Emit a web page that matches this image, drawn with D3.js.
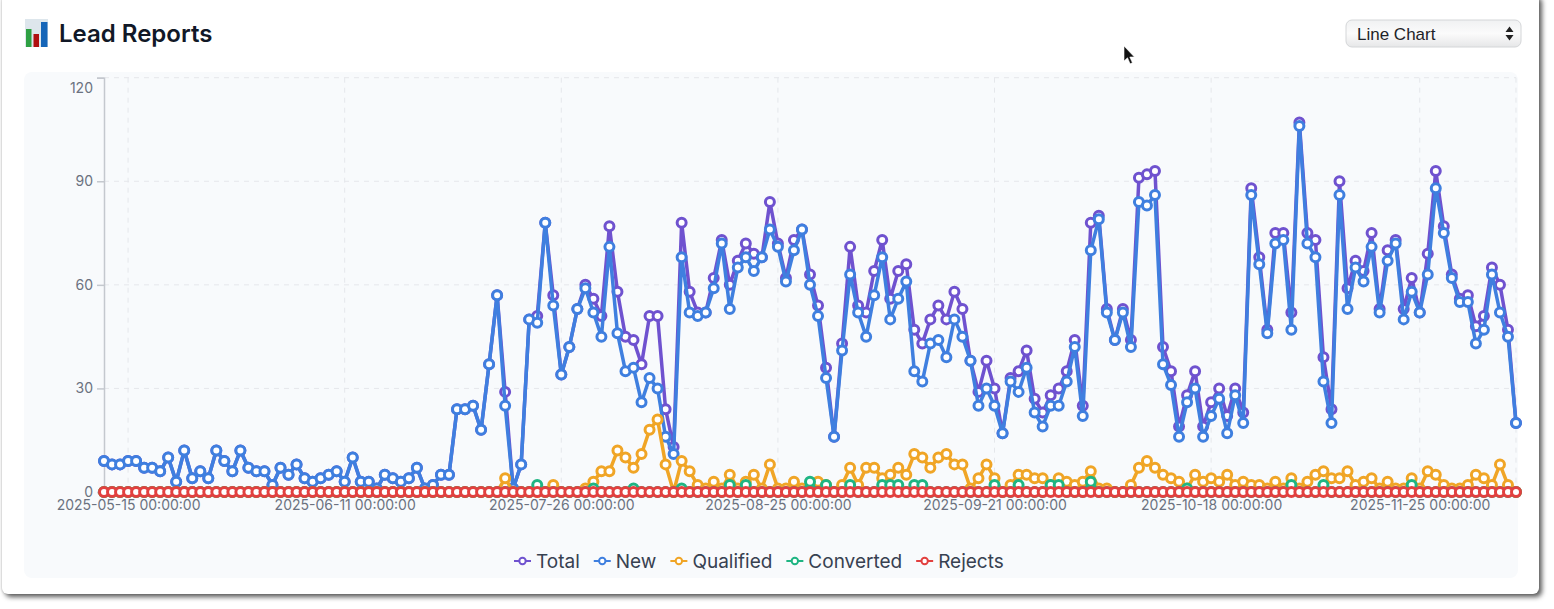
<!DOCTYPE html>
<html lang="en">
<head>
<meta charset="UTF-8">
<title>Lead Reports</title>
<script src="https://d3js.org/d3.v7.min.js"></script>
<style>
    body { margin: 0; background: #fff; font-family: Inter, sans-serif; overflow: hidden; }
    .card {
        position: absolute; left: 2px; top: -6px; width: 1537px; height: 600px;
        background: #fff; border-radius: 6px;
        box-shadow: 3px 3px 5px rgba(0,0,0,0.65), -1px 0 2px rgba(0,0,0,0.12);
    }
    .panel {
        position: absolute; left: 24px; top: 72px; width: 1494px; height: 506px;
        background: #f8fafc; border-radius: 8px;
    }
    svg { position: absolute; left: 0; top: 0; }
    .axis text { fill: #6b7280; font-family: Inter, sans-serif; font-size: 14px; }
    .grid line { stroke: #e5e7eb; stroke-dasharray: 5 5; }
</style>
</head>
<body>
<div class="card"></div>
<div class="panel"></div>
<svg id="chart" width="1554" height="609"></svg>

<script>
    const tickIndexes = [3, 30, 57, 84, 111, 138, 164];
    const tickLabels = ["2025-05-15 00:00:00", "2025-06-11 00:00:00", "2025-07-26 00:00:00", "2025-08-25 00:00:00",
        "2025-09-21 00:00:00", "2025-10-18 00:00:00", "2025-11-25 00:00:00"];
    const yTicks = [0, 30, 60, 90, 120];

    const total = [
        9,8,8,9,9,7,7,6,10,3,
        12,4,6,4,12,9,6,12,7,6,
        6,2,7,5,8,4,3,4,5,6,
        3,10,3,3,1,5,4,3,4,7,
        1,2,5,5,24,24,25,18,37,57,
        29,1,8,50,51,78,57,34,42,53,
        60,56,51,77,58,45,44,37,51,51,
        24,13,78,58,52,52,62,73,60,67,
        72,69,68,84,72,62,73,76,63,54,
        36,16,43,71,54,52,64,73,56,64,
        66,47,43,50,54,50,58,53,38,29,
        38,30,17,33,35,41,27,23,28,30,
        35,44,25,78,80,53,44,53,44,91,
        92,93,42,35,19,28,35,19,26,30,
        22,30,23,88,68,47,75,75,52,107,
        75,73,39,24,90,59,67,64,75,53,
        70,73,53,62,52,69,93,77,63,56,
        57,48,51,65,60,47,20
    ];
    const fresh = [
        9,8,8,9,9,7,7,6,10,3,
        12,4,6,4,12,9,6,12,7,6,
        6,2,7,5,8,4,3,4,5,6,
        3,10,3,3,1,5,4,3,4,7,
        1,2,5,5,24,24,25,18,37,57,
        25,1,8,50,49,78,54,34,42,53,
        59,52,45,71,46,35,36,26,33,30,
        16,11,68,52,51,52,59,72,53,65,
        68,64,68,76,71,61,70,76,60,51,
        33,16,41,63,52,45,57,68,50,56,
        61,35,32,43,44,39,50,45,38,25,
        30,25,17,32,29,36,23,19,25,25,
        32,42,22,70,79,52,44,52,42,84,
        83,86,37,31,16,26,30,16,22,27,
        17,28,20,86,66,46,72,73,47,106,
        72,68,32,20,86,53,65,61,71,52,
        67,72,50,58,52,63,88,75,62,55,
        55,43,47,63,52,45,20
    ];
    const qualified = [
        0,0,0,0,0,0,0,0,0,0,
        0,0,0,0,0,0,0,0,0,0,
        0,0,0,0,0,0,0,0,0,0,
        0,0,0,0,0,0,0,0,0,0,
        0,0,0,0,0,0,0,0,0,0,
        4,0,0,0,0,0,2,0,0,0,
        1,3,6,6,12,10,7,11,18,21,
        8,0,9,6,2,1,3,1,5,1,
        3,5,1,8,1,1,3,1,1,3,
        2,0,2,7,2,7,7,4,5,7,
        5,11,10,7,10,11,8,8,1,4,
        8,4,0,2,5,5,4,4,2,4,
        3,2,3,6,1,1,0,0,2,7,
        9,7,5,4,3,1,5,3,4,3,
        5,2,3,2,2,1,3,1,4,1,
        3,5,6,4,4,6,2,3,4,1,
        3,1,1,4,1,6,5,2,1,1,
        2,5,4,2,8,2,0
    ];
    const converted = [
        0,0,0,0,0,0,0,0,0,0,
        0,0,0,0,0,0,0,0,0,0,
        0,0,0,0,0,0,0,0,0,0,
        0,0,0,0,0,0,0,0,0,0,
        0,0,0,0,0,0,0,0,0,0,
        0,0,0,0,2,0,0,0,0,0,
        0,1,0,0,0,0,1,0,0,0,
        0,0,1,0,0,0,0,0,2,0,
        2,0,0,0,0,0,0,0,3,0,
        2,0,0,2,0,0,0,2,2,2,
        0,2,2,0,0,0,0,0,0,0,
        0,2,0,0,2,0,0,0,2,2,
        0,0,0,3,0,0,0,0,0,0,
        0,0,0,0,0,1,0,0,0,0,
        0,0,0,0,0,0,0,0,2,0,
        0,0,2,0,0,0,0,0,0,0,
        0,0,0,2,0,0,0,0,0,0,
        0,0,0,0,0,0,0
    ];
    const rejects = [
        0,0,0,0,0,0,0,0,0,0,
        0,0,0,0,0,0,0,0,0,0,
        0,0,0,0,0,0,0,0,0,0,
        0,0,0,0,0,0,0,0,0,0,
        0,0,0,0,0,0,0,0,0,0,
        0,0,0,0,0,0,0,0,0,0,
        0,0,0,0,0,0,0,0,0,0,
        0,0,0,0,0,0,0,0,0,0,
        0,0,0,0,0,0,0,0,0,0,
        0,0,0,0,0,0,0,0,0,0,
        0,0,0,0,0,0,0,0,0,0,
        0,0,0,0,0,0,0,0,0,0,
        0,0,0,0,0,0,0,0,0,0,
        0,0,0,0,0,0,0,0,0,0,
        0,0,0,0,0,0,0,0,0,0,
        0,0,0,0,0,0,0,0,0,0,
        0,0,0,0,0,0,0,0,0,0,
        0,0,0,0,0,0,0
    ];

    const seriesNames = ["Total", "New", "Qualified", "Converted", "Rejects"];
    const seriesValues = [total, fresh, qualified, converted, rejects];
    const seriesColors = ["#6f52cf", "#3f7fdf", "#f0a526", "#1fb583", "#e2403f"];

    const svg = d3.select("#chart");

    const x = d3.scalePoint().domain(d3.range(total.length)).range([104, 1516]);
    const y = d3.scaleLinear().domain([0, 120]).range([492, 77.7]);

    // grid
    const grid = svg.append("g").attr("class", "grid");
    grid.selectAll(".h").data(yTicks).enter().append("line")
        .attr("x1", 104).attr("x2", 1516)
        .attr("y1", d => y(d)).attr("y2", d => y(d));
    grid.selectAll(".v").data(tickIndexes.concat(total.length - 1)).enter().append("line")
        .attr("y1", y(120)).attr("y2", y(0))
        .attr("x1", d => x(d)).attr("x2", d => x(d));

    // axes
    const yAxis = svg.append("g").attr("class", "axis")
        .attr("transform", "translate(104,0)")
        .call(d3.axisLeft(y).tickValues(yTicks).tickSize(7).tickPadding(4));
    yAxis.selectAll("path, line").attr("stroke", "#c4c8ce").attr("stroke-width", 1.5);
    yAxis.selectAll(".tick text").filter(d => d === 120).attr("dy", "1.05em");

    const xAxis = svg.append("g").attr("class", "axis")
        .attr("transform", "translate(0," + y(0) + ")")
        .call(d3.axisBottom(x).tickValues(tickIndexes).tickSize(0).tickPadding(8)
            .tickFormat(d => tickLabels[tickIndexes.indexOf(d)]));
    xAxis.select("path").attr("stroke", "#c4c8ce");

    // series, drawn in order so Rejects ends up on top
    const line = d3.line().x((d, i) => x(i)).y(d => y(d));
    seriesValues.forEach((values, s) => {
        const g = svg.append("g");
        g.append("path").datum(values)
            .attr("fill", "none")
            .attr("stroke", seriesColors[s])
            .attr("stroke-width", 3.5)
            .attr("stroke-linejoin", "round")
            .attr("d", line);
        g.selectAll("circle").data(values).enter().append("circle")
            .attr("cx", (d, i) => x(i))
            .attr("cy", d => y(d))
            .attr("r", 4.5)
            .attr("fill", "#fff")
            .attr("stroke", seriesColors[s])
            .attr("stroke-width", 3);
    });

    // legend
    let legendX = 514;
    seriesNames.forEach((name, s) => {
        const g = svg.append("g").attr("transform", "translate(" + legendX + ",561)");
        g.append("line").attr("x1", 0).attr("x2", 17)
            .attr("stroke", seriesColors[s]).attr("stroke-width", 2);
        g.append("circle").attr("cx", 8.5).attr("r", 3.2)
            .attr("fill", "#fff").attr("stroke", seriesColors[s]).attr("stroke-width", 2);
        const label = g.append("text").attr("x", 22).attr("dy", "0.35em")
            .attr("fill", "#374151").attr("font-size", 19).text(name);
        legendX += 22 + label.node().getComputedTextLength() + 14;
    });

    // header
    svg.append("text").attr("x", 59).attr("y", 42)
        .attr("font-size", 24).attr("font-weight", 600).attr("fill", "#111827")
        .text("Lead Reports");

    const icon = svg.append("g").attr("transform", "translate(25,19)");
    icon.append("rect").attr("width", 23).attr("height", 28).attr("fill", "#dde6ec");
    icon.append("rect").attr("x", 1).attr("y", 10).attr("width", 5.5).attr("height", 18).attr("fill", "#2ea043");
    icon.append("rect").attr("x", 8.5).attr("y", 15).attr("width", 5.5).attr("height", 13).attr("fill", "#b01010");
    icon.append("rect").attr("x", 16).attr("y", 3).attr("width", 6.5).attr("height", 25).attr("fill", "#1565b8");

    // chart type select
    const grad = svg.append("defs").append("linearGradient")
        .attr("id", "selectFill").attr("x1", 0).attr("x2", 0).attr("y1", 0).attr("y2", 1);
    grad.append("stop").attr("offset", "0").attr("stop-color", "#f0f1f2");
    grad.append("stop").attr("offset", "0.5").attr("stop-color", "#fbfbfb");
    grad.append("stop").attr("offset", "1").attr("stop-color", "#e6e7e8");
    svg.append("rect").attr("x", 1346).attr("y", 20).attr("width", 175).attr("height", 27).attr("rx", 6)
        .attr("fill", "url(#selectFill)").attr("stroke", "#d4d6d8");
    svg.append("text").attr("x", 1357).attr("y", 39.5)
        .attr("font-family", "'Liberation Sans', sans-serif").attr("font-size", 17).attr("fill", "#1f2328")
        .text("Line Chart");
    svg.append("path").attr("d", "M1505.5 32 l4 -5.5 l4 5.5 z M1505.5 35 l4 5.5 l4 -5.5 z").attr("fill", "#222");

    // mouse pointer
    svg.append("path")
        .attr("d", "M1124 46 v15 l3.5 -3.2 l2.6 6 l2.3 -1 l-2.6 -5.8 h4.6 z")
        .attr("fill", "#111").attr("stroke", "#fff").attr("stroke-width", 0.6);
</script>
</body>
</html>
